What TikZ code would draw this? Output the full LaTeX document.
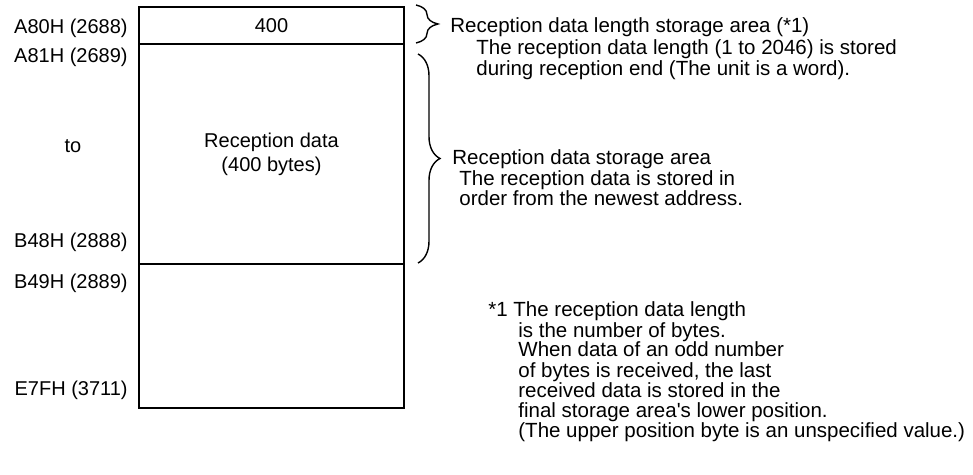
\documentclass[tikz,border=0pt]{standalone}
\usepackage{fontspec}
\setmainfont{Liberation Sans}
\usetikzlibrary{decorations.pathreplacing}

\begin{document}
\begin{tikzpicture}[
    x=0.5pt, y=-0.5pt,
    every node/.style={font=\fontsize{10}{10.75}\selectfont},
    cell/.style={
        rectangle, draw, line width=0.7pt,
        minimum width=132.5pt, inner sep=0pt, outer sep=0pt,
        align=center
    },
    addr/.style={anchor=base east, inner sep=0pt},
    note/.style={anchor=base west, inner sep=0pt, align=left},
    areaBrace/.style={decorate, decoration={brace, amplitude=11pt}, line width=0.7pt}
]
    \useasboundingbox (0,0) rectangle (973,475);

    % --- 1. Memory cells ---
    \node[cell, minimum height=18.5pt] (lenArea) at (271.5,25.5) {400};
    \node[cell, minimum height=110pt] (dataArea) at (271.5,154) {Reception data\\[1.25pt](400 bytes)};
    \node[cell, minimum height=72pt] (freeArea) at (271.5,336) {};
    \draw[line width=1.1pt] (lenArea.north west) rectangle (freeArea.south east);

    % --- 2. Addresses ---
    \node[addr] (addrA80) at (128,34) {A80H (2688)};
    \node[addr] (addrA81) at (128,63) {A81H (2689)};
    \node[anchor=base, inner sep=0pt] (addrTo) at (73,153) {to};
    \node[addr] (addrB48) at (128,248) {B48H (2888)};
    \node[addr] (addrB49) at (128,289) {B49H (2889)};
    \node[addr] (addrE7F) at (128,395) {E7FH (3711)};

    % --- 3. Braces and notes ---
    \coordinate (lenTop) at (416,5);
    \coordinate (lenBot) at (416,43);
    \coordinate (dataTop) at (418,54);
    \coordinate (dataBot) at (418,263);
    \draw[areaBrace] (lenTop) -- (lenBot);
    \draw[areaBrace] (dataTop) -- (dataBot);

    \node[note, font=\fontsize{10.25}{10.75}\selectfont] (lenNote) at (450,76) {
        Reception data length storage area (*1)\\
        \hspace*{13pt}The reception data length (1 to 2046) is stored\\
        \hspace*{13pt}during reception end (The unit is a word).
    };
    \node[note, font=\fontsize{10.25}{10.25}\selectfont] (dataNote) at (452,206) {
        Reception data storage area\\
        \hspace*{3.5pt}The reception data is stored in\\
        \hspace*{3.5pt}order from the newest address.
    };

    % --- 4. Footnote ---
    \node[note, font=\fontsize{10.25}{10}\selectfont] (lenFootnote) at (488,437) {
        *1 The reception data length\\
        \hspace*{15pt}is the number of bytes.\\
        \hspace*{15pt}When data of an odd number\\
        \hspace*{15pt}of bytes is received, the last\\
        \hspace*{15pt}received data is stored in the\\
        \hspace*{15pt}final storage area\textquotesingle s lower position.\\
        \hspace*{15pt}(The upper position byte is an unspecified value.)
    };
\end{tikzpicture}
\end{document}
